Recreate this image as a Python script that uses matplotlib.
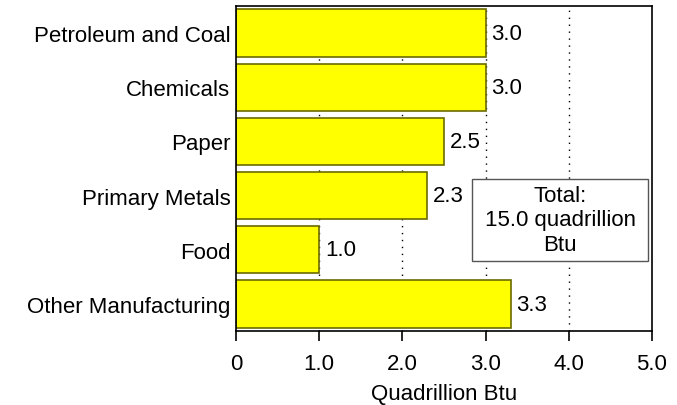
import matplotlib.pyplot as plt
from matplotlib.patches import Rectangle
import numpy as np

plt.rcParams['font.family'] = ['Liberation Sans', 'DejaVu Sans']

categories = ['Petroleum and Coal', 'Chemicals', 'Paper', 'Primary Metals',
              'Food', 'Other Manufacturing']
values = [3.0, 3.0, 2.5, 2.3, 1.0, 3.3]
xticks = [0, 1, 2, 3, 4, 5]
xtick_labels = ['0', '1.0', '2.0', '3.0', '4.0', '5.0']
total_text = 'Total:\n15.0 quadrillion\nBtu'

FS = 16

fig = plt.figure(figsize=(6.77, 4.06), dpi=100)
ax = fig.add_axes([0.3486, 0.182, 0.963 - 0.3486, 0.983 - 0.182])

y = np.arange(len(categories))[::-1]

# dotted gridlines behind the bars
for gx in [1, 2, 3, 4]:
    ax.axvline(gx, color='black', lw=1.0, ls=(0, (1, 4)), zorder=0)

ax.barh(y, values, height=0.87, color='#ffff00', edgecolor='#6b6b00',
        linewidth=1.2, zorder=2)

for yi, v in zip(y, values):
    ax.text(v + 0.07, yi, f'{v:.1f}', va='center', ha='left', fontsize=FS,
            zorder=3)

# total box
ax.add_patch(Rectangle((2.84, 0.79), 2.11, 1.52, facecolor='white',
                       edgecolor='#555555', linewidth=1, zorder=4))
ax.text(3.895, 1.55, total_text, ha='center', va='center', fontsize=FS,
        linespacing=1.2, zorder=5)

ax.set_xlim(0, 5)
ax.set_ylim(-0.5, 5.5)
ax.set_xticks(xticks)
ax.set_xticklabels(xtick_labels, fontsize=FS)
ax.set_yticks(y)
ax.set_yticklabels(categories, fontsize=FS)
ax.tick_params(axis='y', length=0, pad=4)
ax.tick_params(axis='x', direction='out', length=7, width=1.2, pad=9)
for s in ax.spines.values():
    s.set_linewidth(1.2)
ax.set_xlabel('Quadrillion Btu', fontsize=FS, labelpad=6)

fig.savefig('out.png', dpi=100)
